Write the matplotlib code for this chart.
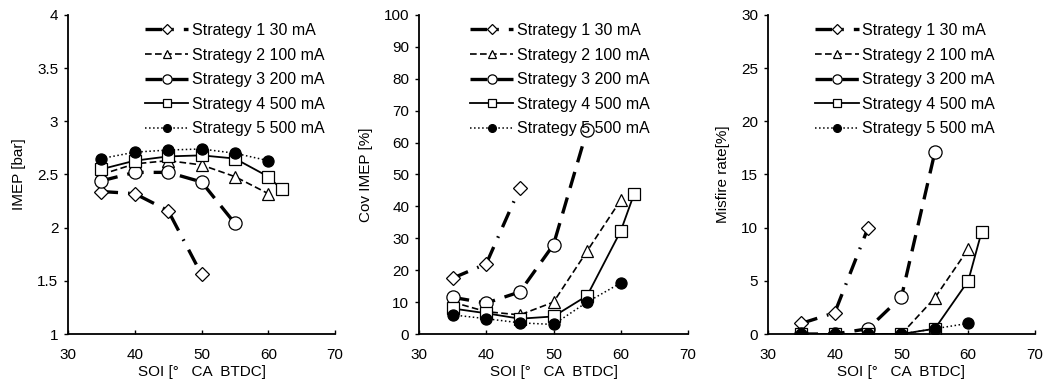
import matplotlib.pyplot as plt
from matplotlib.ticker import FuncFormatter

plt.rcParams['font.family'] = ['Liberation Sans', 'DejaVu Sans']

# SOI sweep points [deg CA BTDC] per strategy
soi_s1 = [35, 40, 45, 50]
soi_s2 = [35, 40, 45, 50, 55, 60]
soi_s3 = [35, 40, 45, 50, 55]
soi_s4 = [35, 40, 45, 50, 55, 60, 62]
soi_s5 = [35, 40, 45, 50, 55, 60]

# IMEP [bar]
imep_s1 = [2.34, 2.32, 2.16, 1.56]
imep_s2 = [2.50, 2.60, 2.63, 2.59, 2.48, 2.32]
imep_s3 = [2.44, 2.52, 2.52, 2.43, 2.04]
imep_s4 = [2.55, 2.63, 2.67, 2.68, 2.65, 2.48, 2.36]
imep_s5 = [2.65, 2.71, 2.73, 2.74, 2.70, 2.63]

# CoV of IMEP [%]  (strategy 1 and 3 only have the early points)
cov_s1 = [17.5, 22.0, 45.8]
cov_s2 = [10.0, 7.0, 6.0, 10.0, 26.0, 42.0]
cov_s3 = [11.5, 9.7, 13.2, 28.0, 64.0]
cov_s4 = [8.0, 6.5, 4.8, 5.5, 12.0, 32.3, 44.0]
cov_s5 = [6.0, 4.8, 3.5, 3.0, 10.0, 16.0]

# misfire rate [%]
mis_s1 = [1.0, 2.0, 10.0]
mis_s2 = [0.0, 0.0, 0.0, 0.0, 3.4, 8.0]
mis_s3 = [0.0, 0.0, 0.5, 3.5, 17.1]
mis_s4 = [0.0, 0.0, 0.0, 0.0, 0.5, 5.0, 9.6]
mis_s5 = [0.0, 0.0, 0.0, 0.0, 0.5, 1.0]

labels = ['Strategy 1 30 mA', 'Strategy 2 100 mA', 'Strategy 3 200 mA',
          'Strategy 4 500 mA', 'Strategy 5 500 mA']

styles = [
    dict(color='k', lw=2.4, dashes=(5, 3, 0.5, 3), marker='D', ms=7, mfc='white', mec='k', mew=0.9),
    dict(color='k', lw=1.2, dashes=(4, 2), marker='^', ms=8.5, mfc='white', mec='k', mew=0.9),
    dict(color='k', lw=2.4, dashes=(5, 3), marker='o', ms=9.5, mfc='white', mec='k', mew=0.9),
    dict(color='k', lw=1.3, ls='-', marker='s', ms=8, mfc='white', mec='k', mew=0.9),
    dict(color='k', lw=1.1, ls=':', marker='o', ms=8, mfc='k', mec='k', mew=0.9),
]

# data, y label, y range, y step, axes rect, legend anchor x
panels = [
    ([imep_s1, imep_s2, imep_s3, imep_s4, imep_s5], 'IMEP [bar]', (1, 4), 0.5,
     [0.0649, 0.1279, 0.2548, 0.833], 0.996),
    ([cov_s1, cov_s2, cov_s3, cov_s4, cov_s5], 'Cov IMEP [%]', (0, 100), 10,
     [0.3998, 0.1279, 0.2567, 0.833], 0.892),
    ([mis_s1, mis_s2, mis_s3, mis_s4, mis_s5], 'Misfire rate[%]', (0, 30), 5,
     [0.7328, 0.1279, 0.2548, 0.833], 0.884),
]
soi_all = [soi_s1, soi_s2, soi_s3, soi_s4, soi_s5]

fig = plt.figure(figsize=(10.48, 3.83), dpi=100)

for ys, ylab, ylim, ystep, rect, leg_x in panels:
    ax = fig.add_axes(rect)
    for i in range(5):
        x = soi_all[i][:len(ys[i])]
        ax.plot(x, ys[i], label=labels[i], **styles[i])
    ax.set_xlim(30, 70)
    ax.set_ylim(*ylim)
    ax.set_xticks([30, 40, 50, 60, 70])
    yt = []
    v = ylim[0]
    while v <= ylim[1] + 1e-9:
        yt.append(v)
        v += ystep
    ax.set_yticks(yt)
    ax.yaxis.set_major_formatter(FuncFormatter(lambda val, pos: '{:g}'.format(round(val, 2))))
    ax.spines['top'].set_visible(False)
    ax.spines['right'].set_visible(False)
    ax.spines['left'].set_linewidth(1.3)
    ax.spines['bottom'].set_linewidth(1.3)
    ax.tick_params(axis='y', direction='out', length=3, width=1.0, labelsize=11, pad=4)
    ax.tick_params(axis='x', direction='in', length=3, width=1.0, labelsize=11, pad=10)
    ax.set_xlabel('SOI [°   CA  BTDC]', fontsize=11, labelpad=2)
    ax.set_ylabel(ylab, fontsize=11, labelpad=8)
    ax.legend(loc='upper right', frameon=False, fontsize=11.5, handlelength=2.7,
              handletextpad=0.2, labelspacing=0.6, borderaxespad=0.2,
              markerscale=0.7, bbox_to_anchor=(leg_x, 1.005))

fig.savefig('out.png', dpi=100)
